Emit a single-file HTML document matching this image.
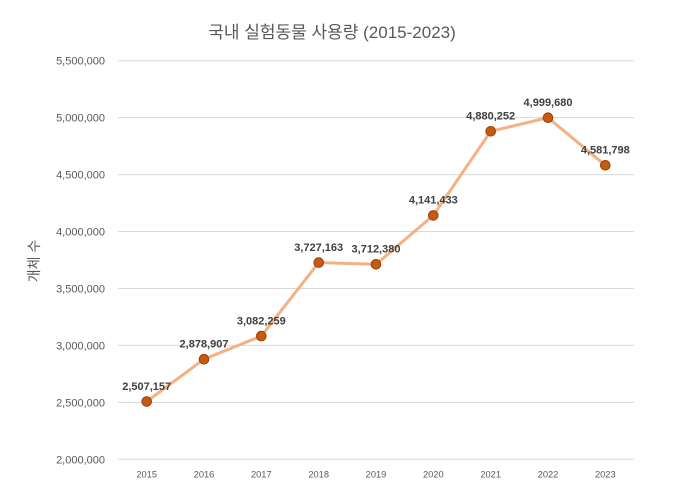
<!DOCTYPE html>
<html><head><meta charset="utf-8"><style>
html,body{margin:0;padding:0;background:#fff;}
svg{display:block;}
</style></head><body>
<svg width="680" height="502" viewBox="0 0 680 502" xmlns="http://www.w3.org/2000/svg">
<rect width="680" height="502" fill="#fff"/>
<text x="332" y="38" text-anchor="middle" font-family="'Liberation Sans','Noto Sans CJK KR',sans-serif" font-size="17" fill="#595959">국내 실험동물 사용량 (2015-2023)</text>
<g stroke="#d9d9d9" stroke-width="1">
<line x1="118" x2="634" y1="60.7" y2="60.7"/>
<line x1="118" x2="634" y1="117.6" y2="117.6"/>
<line x1="118" x2="634" y1="174.6" y2="174.6"/>
<line x1="118" x2="634" y1="231.5" y2="231.5"/>
<line x1="118" x2="634" y1="288.5" y2="288.5"/>
<line x1="118" x2="634" y1="345.4" y2="345.4"/>
<line x1="118" x2="634" y1="402.4" y2="402.4"/>
<line x1="118" x2="634" y1="459.3" y2="459.3"/>
</g>
<g font-family="'Liberation Sans',sans-serif" font-size="11" fill="#595959" text-anchor="end">
<text x="105" y="64.7">5,500,000</text>
<text x="105" y="121.6">5,000,000</text>
<text x="105" y="178.6">4,500,000</text>
<text x="105" y="235.5">4,000,000</text>
<text x="105" y="292.5">3,500,000</text>
<text x="105" y="349.4">3,000,000</text>
<text x="105" y="406.4">2,500,000</text>
<text x="105" y="463.3">2,000,000</text>
</g>
<text transform="translate(39,261) rotate(-90)" text-anchor="middle" font-family="'Liberation Sans','Noto Sans CJK KR',sans-serif" font-size="14" fill="#595959">개체 수</text>
<g font-family="'Liberation Sans',sans-serif" font-size="9.3" fill="#595959" text-anchor="middle">
<text x="146.7" y="477.5">2015</text>
<text x="204" y="477.5">2016</text>
<text x="261.3" y="477.5">2017</text>
<text x="318.7" y="477.5">2018</text>
<text x="376" y="477.5">2019</text>
<text x="433.3" y="477.5">2020</text>
<text x="490.7" y="477.5">2021</text>
<text x="548" y="477.5">2022</text>
<text x="605.3" y="477.5">2023</text>
</g>
<polyline fill="none" stroke="#F4B183" stroke-width="3" stroke-linejoin="round" stroke-linecap="round"
 points="146.7,401.5 204,359.2 261.3,336.1 318.7,262.6 376,264.3 433.3,215.4 490.7,131.3 548,117.7 605.3,165.3"/>
<g fill="#C55A11" stroke="#9E3F0A" stroke-width="1">
<circle cx="146.7" cy="401.5" r="4.8"/>
<circle cx="204" cy="359.2" r="4.8"/>
<circle cx="261.3" cy="336.1" r="4.8"/>
<circle cx="318.7" cy="262.6" r="4.8"/>
<circle cx="376" cy="264.3" r="4.8"/>
<circle cx="433.3" cy="215.4" r="4.8"/>
<circle cx="490.7" cy="131.3" r="4.8"/>
<circle cx="548" cy="117.7" r="4.8"/>
<circle cx="605.3" cy="165.3" r="4.8"/>
</g>
<g font-family="'Liberation Sans',sans-serif" font-size="11" font-weight="bold" fill="#404040" text-anchor="middle">
<text x="146.7" y="389.8">2,507,157</text>
<text x="204" y="347.5">2,878,907</text>
<text x="261.3" y="324.4">3,082,259</text>
<text x="318.7" y="250.9">3,727,163</text>
<text x="376" y="252.6">3,712,380</text>
<text x="433.3" y="203.7">4,141,433</text>
<text x="490.7" y="119.6">4,880,252</text>
<text x="548" y="106">4,999,680</text>
<text x="605.3" y="153.6">4,581,798</text>
</g>
</svg>
</body></html>
